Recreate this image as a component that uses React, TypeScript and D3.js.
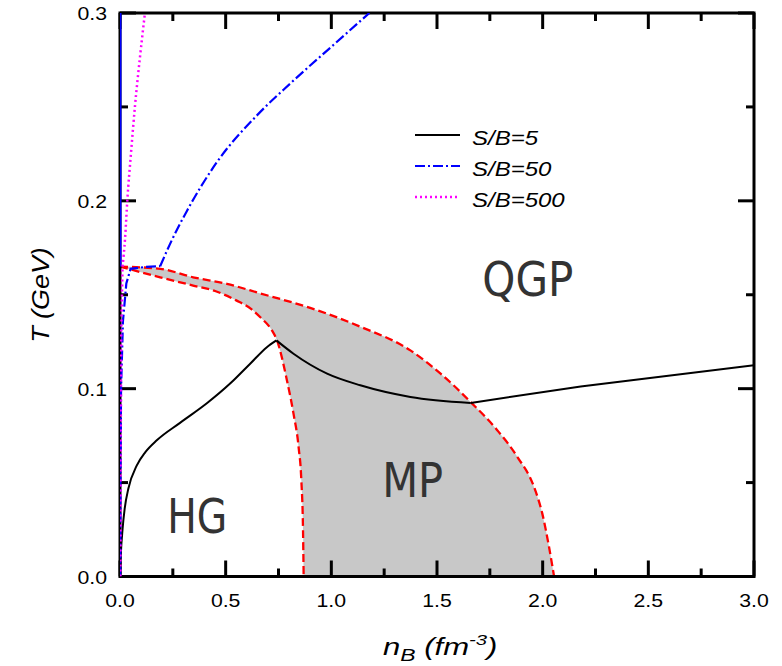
import React from "react";
import * as d3 from "d3";

type P = [number, number];

// S/B = 5 trajectory (three pieces: hadron gas, mixed phase, QGP)
const sb5Hadron: P[] = [[0,0],[0.004,0.012],[0.012,0.025],[0.022,0.036],[0.04,0.047],[0.079,0.059],[0.12,0.0662],[0.174,0.0725],[0.284,0.0818],[0.411,0.0922],[0.521,0.1027],[0.616,0.1133],[0.695,0.1221],[0.74,0.1257]];
const sb5Mixed: P[] = [[0.74,0.1257],[0.821,0.1186],[0.98,0.108],[1.137,0.1018],[1.374,0.0956],[1.659,0.0924]];
const sb5QGP: P[] = [[1.659,0.0924],[2.18,0.1012],[3.0,0.1125]];

// S/B = 50
const sb50Low: P[] = [[0.001,0],[0.002,0.05],[0.005,0.1],[0.014,0.136],[0.03,0.156],[0.05,0.1638],[0.12,0.1648],[0.19,0.1652]];
const sb50QGP: P[] = [[0.19,0.1652],[0.245,0.179],[0.316,0.1945],[0.458,0.2205],[0.648,0.2455],[0.806,0.2625],[1.0,0.282],[1.18,0.3]];
const sbVertical: P[] = [[0,0.165],[0,0.3]];

// S/B = 500
const sb500Low: P[] = [[0.002,0],[0.003,0.06],[0.006,0.13],[0.012,0.165]];
const sb500QGP: P[] = [[0.012,0.165],[0.024,0.18],[0.035,0.201],[0.051,0.224],[0.071,0.2506],[0.095,0.277],[0.118,0.3]];

// Mixed phase boundaries
const qgpBoundary: P[] = [[0,0.165],[0.19,0.1638],[0.346,0.1593],[0.506,0.1558],[0.664,0.1507],[0.9,0.143],[1.137,0.133],[1.374,0.1204],[1.517,0.108],[1.659,0.0929],[1.785,0.0779],[1.88,0.0637],[1.959,0.0477],[1.998,0.0336],[2.03,0.0158],[2.054,0]];
const hgBoundary: P[] = [[0,0.165],[0.19,0.1593],[0.346,0.1549],[0.45,0.152],[0.55,0.147],[0.62,0.1425],[0.664,0.138],[0.719,0.131],[0.743,0.1257],[0.79,0.1044],[0.821,0.0867],[0.845,0.069],[0.858,0.0513],[0.866,0.0247],[0.869,0]];

const xMajor = [0, 0.5, 1.0, 1.5, 2.0, 2.5, 3.0];
const xMinor = [0.25, 0.75, 1.25, 1.75, 2.25, 2.75];
const yMajor = [0, 0.1, 0.2, 0.3];
const yMinor = [0.05, 0.15, 0.25];

const legendItems = [
  { label: "S/B=5", color: "#000", dash: "none", width: 2 },
  { label: "S/B=50", color: "#0000ff", dash: "10,3,2,3", width: 2.2 },
  { label: "S/B=500", color: "#ff00ff", dash: "2,3", width: 2.5 },
];

const regionLabels = [
  { text: "QGP", n: 1.93, t: 0.1495, w: 91 },
  { text: "MP", n: 1.385, t: 0.0425, w: 61 },
  { text: "HG", n: 0.365, t: 0.023, w: 60 },
];

export default function App() {
  const L = 120, R = 754, T = 13, B = 576.5;
  const x = d3.scaleLinear().domain([0, 3]).range([L, R]);
  const y = d3.scaleLinear().domain([0, 0.3]).range([B, T]);
  const smooth = d3.line<P>().x(d => x(d[0])).y(d => y(d[1])).curve(d3.curveMonotoneX);
  const straight = d3.line<P>().x(d => x(d[0])).y(d => y(d[1]));

  const fillPath =
    (smooth(qgpBoundary) || "") +
    "L" + x(hgBoundary[hgBoundary.length - 1][0]) + "," + y(0) +
    (smooth(hgBoundary.slice().reverse()) || "").replace(/^M/, "L") +
    "Z";

  const font = "'Liberation Sans', Arial, sans-serif";
  const bigFont = "'DejaVu Sans Condensed', 'DejaVu Sans', sans-serif";

  return (
    <svg width={782} height={666} style={{ position: "absolute", left: 0, top: 0, background: "#fff" }}>
      <defs>
        <clipPath id="plot">
          <rect x={L} y={T} width={R - L} height={B - T} />
        </clipPath>
      </defs>
      <rect x={0} y={0} width={782} height={666} fill="#fff" />
      <g clipPath="url(#plot)">
        <path d={fillPath} fill="#c8c8c8" stroke="none" />
        <path d={smooth(qgpBoundary) || ""} fill="none" stroke="#ff0000" strokeWidth={2.3} strokeDasharray="8,4" />
        <path d={smooth(hgBoundary) || ""} fill="none" stroke="#ff0000" strokeWidth={2.3} strokeDasharray="8,4" />
      </g>

      {/* frame */}
      <rect x={L} y={T} width={R - L} height={B - T} fill="none" stroke="#000" strokeWidth={3} />
      {xMajor.map(v => (
        <g key={"xM" + v}>
          <line x1={x(v)} x2={x(v)} y1={B} y2={B - 16} stroke="#000" strokeWidth={3} />
          <line x1={x(v)} x2={x(v)} y1={T} y2={T + 16} stroke="#000" strokeWidth={3} />
          <text transform={`translate(${x(v)},607) scale(1.12,1)`} textAnchor="middle" fontFamily={font} fontSize={19} fill="#000">{v.toFixed(1)}</text>
        </g>
      ))}
      {xMinor.map(v => (
        <g key={"xm" + v}>
          <line x1={x(v)} x2={x(v)} y1={B} y2={B - 8} stroke="#000" strokeWidth={3} />
          <line x1={x(v)} x2={x(v)} y1={T} y2={T + 8} stroke="#000" strokeWidth={3} />
        </g>
      ))}
      {yMajor.map(v => (
        <g key={"yM" + v}>
          <line x1={L} x2={L + 16} y1={y(v)} y2={y(v)} stroke="#000" strokeWidth={3} />
          <line x1={R} x2={R - 16} y1={y(v)} y2={y(v)} stroke="#000" strokeWidth={3} />
          <text transform={`translate(107,${y(v) + 7}) scale(1.12,1)`} textAnchor="end" fontFamily={font} fontSize={19} fill="#000">{v.toFixed(1)}</text>
        </g>
      ))}
      {yMinor.map(v => (
        <g key={"ym" + v}>
          <line x1={L} x2={L + 8} y1={y(v)} y2={y(v)} stroke="#000" strokeWidth={3} />
          <line x1={R} x2={R - 8} y1={y(v)} y2={y(v)} stroke="#000" strokeWidth={3} />
        </g>
      ))}

      <g clipPath="url(#plot)">
        <path d={straight(sbVertical) || ""} fill="none" stroke="#0000ff" strokeWidth={3} />
        <path d={smooth(sb5Hadron) || ""} fill="none" stroke="#000" strokeWidth={2} />
        <path d={smooth(sb5Mixed) || ""} fill="none" stroke="#000" strokeWidth={2} />
        <path d={straight(sb5QGP) || ""} fill="none" stroke="#000" strokeWidth={2} />
        <path d={straight(sb50Low) || ""} fill="none" stroke="#0000ff" strokeWidth={2.2} strokeDasharray="10,3,2,3" />
        <path d={smooth(sb50QGP) || ""} fill="none" stroke="#0000ff" strokeWidth={2.2} strokeDasharray="10,3,2,3" />
        <path d={straight(sb500Low) || ""} fill="none" stroke="#ff00ff" strokeWidth={2.5} strokeDasharray="2,3" />
        <path d={smooth(sb500QGP) || ""} fill="none" stroke="#ff00ff" strokeWidth={2.5} strokeDasharray="2,3" />
      </g>

      {/* region labels */}
      {regionLabels.map(r => (
        <text key={r.text} x={x(r.n)} y={y(r.t)} textAnchor="middle" fontFamily={bigFont} fontSize={48} fill="#333"
          textLength={r.w} lengthAdjust="spacingAndGlyphs">{r.text}</text>
      ))}

      {/* legend */}
      {legendItems.map((it, i) => (
        <g key={it.label}>
          <line x1={415} x2={460} y1={135 + i * 31} y2={135 + i * 31} stroke={it.color} strokeWidth={it.width}
            strokeDasharray={it.dash} />
          <text transform={`translate(472,${145 + i * 31}) scale(1.2,1)`} fontFamily={font} fontStyle="italic" fontSize={20} fill="#000">{it.label}</text>
        </g>
      ))}

      {/* axis titles */}
      <text transform="translate(383,655) scale(1.35,1)" fontFamily={font} fontStyle="italic" fontSize={23} fill="#000">
        n<tspan fontSize={17} dy={6}>B</tspan><tspan dy={-6}> (fm</tspan><tspan fontSize={15} dy={-10}>-3</tspan><tspan dy={10}>)</tspan>
      </text>
      <text transform="translate(49,295) rotate(-90) scale(1.17,1)" textAnchor="middle" fontFamily={font} fontStyle="italic" fontSize={23} fill="#000">
        T (GeV)
      </text>
    </svg>
  );
}
